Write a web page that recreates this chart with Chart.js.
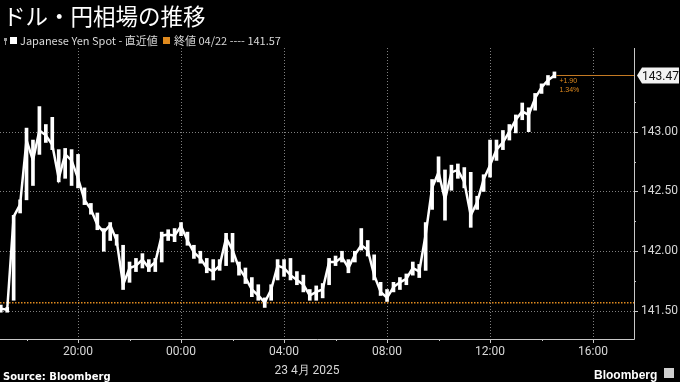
<!DOCTYPE html>
<html>
<head>
<meta charset="utf-8">
<script src="https://cdn.jsdelivr.net/npm/chart.js@4.4.1/dist/chart.umd.min.js"></script>
<style>
html, body { margin: 0; padding: 0; background: #000; }
#wrap { width: 680px; height: 382px; position: relative; }
</style>
</head>
<body>
<div id="wrap"><canvas id="fxChart"></canvas></div>
<script>
// hours from 23 Apr 00:00, one bar every 15 minutes starting 22 Apr 17:00
var startHour = -7;
var stepHour = 0.25;

var closeVals = [141.52, 141.51, 142.29, 142.39, 142.93, 142.76, 143.01, 142.97, 142.89, 142.61,
    142.81, 142.76, 142.61, 142.43, 142.35, 142.22, 142.16, 142.22, 142.09, 141.72,
    141.86, 141.88, 141.93, 141.86, 141.91, 142.13, 142.14, 142.13, 142.21, 142.09,
    141.99, 141.94, 141.86, 141.83, 141.88, 142.11, 142.01, 141.86, 141.78, 141.68,
    141.63, 141.57, 141.68, 141.88, 141.86, 141.80, 141.76, 141.72, 141.63, 141.66,
    141.68, 141.91, 141.91, 141.95, 141.86, 141.97, 142.05, 142.01, 141.80, 141.66,
    141.61, 141.70, 141.74, 141.77, 141.86, 141.83, 142.14, 142.53, 142.66, 142.43,
    142.66, 142.68, 142.58, 142.30, 142.41, 142.60, 142.72, 142.85, 142.91, 143.00,
    143.10, 143.17, 143.14, 143.28, 143.37, 143.43, 143.47];
var highVals = [141.55, 141.53, 142.30, 142.43, 143.03, 142.93, 143.21, 143.06, 143.12, 142.85,
    142.86, 142.85, 142.81, 142.53, 142.40, 142.32, 142.19, 142.24, 142.14, 142.05,
    141.91, 141.94, 141.98, 141.93, 141.94, 142.16, 142.18, 142.19, 142.24, 142.16,
    142.05, 142.00, 141.94, 141.93, 141.93, 142.15, 142.15, 141.91, 141.86, 141.78,
    141.72, 141.61, 141.72, 141.93, 141.93, 141.94, 141.83, 141.80, 141.68, 141.71,
    141.73, 141.94, 141.96, 142.00, 141.93, 142.00, 142.19, 142.09, 141.97, 141.74,
    141.68, 141.74, 141.78, 141.81, 141.91, 141.89, 142.24, 142.60, 142.79, 142.68,
    142.72, 142.73, 142.70, 142.66, 142.46, 142.64, 142.93, 142.93, 143.01, 143.06,
    143.14, 143.24, 143.20, 143.32, 143.40, 143.47, 143.50];
var lowVals = [141.49, 141.49, 141.59, 142.32, 142.43, 142.55, 142.81, 142.91, 142.85, 142.58,
    142.61, 142.55, 142.53, 142.39, 142.31, 142.18, 142.00, 142.09, 142.05, 141.68,
    141.74, 141.83, 141.86, 141.83, 141.83, 141.91, 142.09, 142.08, 142.13, 142.05,
    141.94, 141.90, 141.82, 141.76, 141.84, 141.88, 141.91, 141.80, 141.73, 141.62,
    141.59, 141.53, 141.59, 141.76, 141.79, 141.76, 141.72, 141.66, 141.59, 141.59,
    141.61, 141.72, 141.88, 141.91, 141.82, 141.91, 142.01, 141.96, 141.76, 141.63,
    141.58, 141.66, 141.68, 141.72, 141.80, 141.78, 141.84, 142.35, 142.58, 142.26,
    142.51, 142.61, 142.53, 142.20, 142.35, 142.50, 142.62, 142.76, 142.85, 142.93,
    142.99, 143.10, 143.00, 143.18, 143.32, 143.39, 143.45];

var timeTicks = [-4, 0, 4, 8, 12, 16];
var timeMinor = [-6, -2, 2, 6, 10, 14];
var priceTicks = [141.5, 142, 142.5, 143];
var priceMinor = [141.75, 142.25, 142.75, 143.25];
var prevClose = 141.57;
var lastPrice = 143.47;
var changeLines = ['+1.90', '1.34%'];

var closePoints = [], rangeBars = [];
for (var i = 0; i < closeVals.length; i++) {
    var t = startHour + i * stepHour;
    closePoints.push({ x: t, y: closeVals[i] });
    rangeBars.push({ x: t, y: [lowVals[i], highVals[i]] });
}

function hourLabel(v) {
    var h = ((v % 24) + 24) % 24;
    return (h < 10 ? '0' : '') + h + ':00';
}

var orange = '#e08a1e';

var decorPlugin = {
    id: 'decor',
    beforeDatasetsDraw: function (chart) {
        var ctx = chart.ctx, a = chart.chartArea;
        var xs = chart.scales.x, ys = chart.scales.y;
        ctx.save();
        ctx.lineWidth = 1;
        ctx.strokeStyle = '#808080';
        ctx.setLineDash([1, 2]);
        priceTicks.forEach(function (v) {
            var y = Math.round(ys.getPixelForValue(v)) + 0.5;
            ctx.beginPath(); ctx.moveTo(a.left, y); ctx.lineTo(a.right, y); ctx.stroke();
        });
        timeTicks.forEach(function (v) {
            var x = Math.round(xs.getPixelForValue(v)) + 0.5;
            ctx.beginPath(); ctx.moveTo(x, a.top); ctx.lineTo(x, a.bottom); ctx.stroke();
        });
        // previous close
        ctx.strokeStyle = orange;
        ctx.lineWidth = 1.5;
        ctx.setLineDash([1.5, 1.5]);
        var py = ys.getPixelForValue(prevClose);
        ctx.beginPath(); ctx.moveTo(a.left, py); ctx.lineTo(a.right, py); ctx.stroke();
        ctx.restore();
    },
    afterDraw: function (chart) {
        var ctx = chart.ctx, a = chart.chartArea;
        var xs = chart.scales.x, ys = chart.scales.y;
        ctx.save();
        // axes
        ctx.strokeStyle = '#c8c8c8';
        ctx.lineWidth = 1;
        ctx.beginPath();
        ctx.moveTo(a.right + 0.5, a.top); ctx.lineTo(a.right + 0.5, a.bottom + 0.5);
        ctx.lineTo(a.left, a.bottom + 0.5);
        ctx.stroke();
        ctx.beginPath();
        priceTicks.forEach(function (v) {
            var y = Math.round(ys.getPixelForValue(v)) + 0.5;
            ctx.moveTo(a.right, y); ctx.lineTo(a.right + 4, y);
        });
        priceMinor.forEach(function (v) {
            var y = Math.round(ys.getPixelForValue(v)) + 0.5;
            ctx.moveTo(a.right, y); ctx.lineTo(a.right + 2, y);
        });
        timeTicks.forEach(function (v) {
            var x = Math.round(xs.getPixelForValue(v)) + 0.5;
            ctx.moveTo(x, a.bottom); ctx.lineTo(x, a.bottom + 4);
        });
        timeMinor.forEach(function (v) {
            var x = Math.round(xs.getPixelForValue(v)) + 0.5;
            ctx.moveTo(x, a.bottom); ctx.lineTo(x, a.bottom + 2);
        });
        ctx.stroke();

        // last price line and change
        var lx = xs.getPixelForValue(startHour + (closeVals.length - 1) * stepHour);
        var ly = Math.round(ys.getPixelForValue(lastPrice)) + 0.5;
        ctx.strokeStyle = '#c47a24';
        ctx.beginPath(); ctx.moveTo(lx + 2, ly); ctx.lineTo(a.right, ly); ctx.stroke();
        ctx.fillStyle = orange;
        ctx.font = '7px "Liberation Sans"';
        ctx.textBaseline = 'middle';
        ctx.fillText(changeLines[0], lx + 5, ly + 6);
        ctx.fillText(changeLines[1], lx + 5, ly + 15);

        // price tag
        ctx.fillStyle = '#f2f2f2';
        ctx.beginPath();
        ctx.moveTo(a.right + 3, ly);
        ctx.lineTo(a.right + 8, ly - 8);
        ctx.lineTo(679, ly - 8);
        ctx.lineTo(679, ly + 8);
        ctx.lineTo(a.right + 8, ly + 8);
        ctx.closePath();
        ctx.fill();
        ctx.fillStyle = '#111';
        ctx.font = '12px Roboto';
        ctx.textAlign = 'left';
        ctx.fillText(lastPrice.toFixed(2), a.right + 8, ly + 1);

        // title and legend
        ctx.fillStyle = '#ffffff';
        ctx.font = '22.5px "Noto Sans CJK JP"';
        ctx.textBaseline = 'alphabetic';
        ctx.fillText('ドル・円相場の推移', 3, 25);

        ctx.font = '11px "Noto Sans CJK JP"';
        ctx.fillStyle = '#9a9a9a';
        ctx.fillRect(4, 38, 3, 3);
        ctx.fillRect(5, 41, 1, 4);
        ctx.fillStyle = '#ffffff';
        ctx.fillRect(10, 37, 7, 7);
        ctx.fillStyle = '#d8d8d8';
        ctx.fillText('Japanese Yen Spot - 直近値', 20, 45);
        ctx.fillStyle = orange;
        ctx.fillRect(163, 37, 7, 7);
        ctx.fillStyle = '#d8d8d8';
        ctx.fillText('終値 04/22 ---- ' + prevClose.toFixed(2), 174, 45);

        // date line under the axis
        ctx.textAlign = 'center';
        ctx.font = '12px Roboto';
        ctx.fillStyle = '#d8d8d8';
        ctx.fillText('23 4月 2025', 307, 374);

        // footer
        ctx.textAlign = 'left';
        ctx.font = 'bold 10px "DejaVu Sans"';
        ctx.fillStyle = '#ffffff';
        ctx.fillText('Source: Bloomberg', 3, 380);
        ctx.font = 'bold 12px "Liberation Sans"';
        ctx.fillText('Bloomberg', 594, 379);
        ctx.fillStyle = '#cfcfcf';
        ctx.fillRect(664, 368, 10, 10);
        ctx.restore();
    }
};

var ctx = document.getElementById('fxChart').getContext('2d');
var fxChart = new Chart(ctx, {
    type: 'bar',
    data: {
        datasets: [
            {
                type: 'line',
                label: 'Japanese Yen Spot',
                data: closePoints,
                borderColor: '#ffffff',
                borderWidth: 2.5,
                pointRadius: 0,
                tension: 0
            },
            {
                type: 'bar',
                label: 'range',
                data: rangeBars,
                backgroundColor: '#ffffff',
                barThickness: 3
            }
        ]
    },
    options: {
        responsive: true,
        maintainAspectRatio: false,
        animation: false,
        layout: { padding: { top: 48, left: 0, right: 0, bottom: 0 } },
        plugins: { legend: { display: false }, tooltip: { enabled: false } },
        scales: {
            x: {
                type: 'linear',
                offset: false,
                min: -7.03,
                max: 17.59,
                grid: { display: false, drawTicks: false, offset: false },
                border: { display: false },
                afterBuildTicks: function (s) { s.ticks = timeTicks.map(function (v) { return { value: v }; }); },
                afterFit: function (s) { s.height = 43; },
                ticks: {
                    color: '#d8d8d8',
                    font: { family: 'Roboto', size: 12 },
                    padding: 6,
                    maxRotation: 0,
                    callback: function (v) { return hourLabel(v); }
                }
            },
            y: {
                position: 'right',
                min: 141.266,
                max: 143.70,
                grid: { display: false, drawTicks: false },
                border: { display: false },
                afterBuildTicks: function (s) { s.ticks = priceTicks.map(function (v) { return { value: v }; }); },
                afterFit: function (s) { s.width = 46; },
                ticks: {
                    color: '#d8d8d8',
                    font: { family: 'Roboto', size: 12 },
                    padding: 7,
                    callback: function (v) { return v.toFixed(2); }
                }
            }
        }
    },
    plugins: [decorPlugin]
});
</script>
</body>
</html>
